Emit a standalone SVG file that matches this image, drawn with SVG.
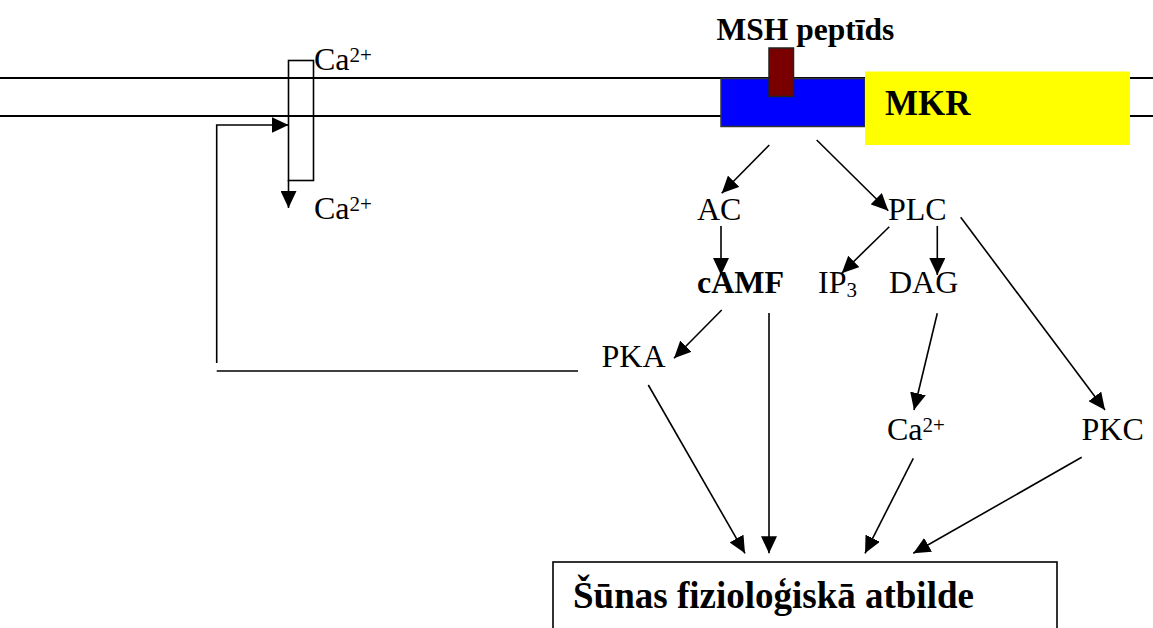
<svg xmlns="http://www.w3.org/2000/svg" width="1153" height="628" viewBox="0 0 1153 628">
<style>
.t{font-family:"Liberation Serif","Times New Roman",serif;font-size:32px;fill:#000}
.b{font-weight:bold}
.sup{font-size:21px}
.c{stroke:#000;stroke-width:1.6;fill:none}
.cm{stroke:#000;stroke-width:1.6;fill:none;marker-end:url(#ah)}
</style>
<defs>
<marker id="ah" markerUnits="userSpaceOnUse" markerWidth="17" markerHeight="16" refX="17" refY="8" orient="auto">
<path d="M0,0 L17,8 L0,16 Z" fill="#000"/>
</marker>
</defs>
<rect width="1153" height="628" fill="#fff"/>
<g id="membrane">
<line x1="0" y1="78" x2="1153" y2="78" stroke="#000" stroke-width="2"/>
<line x1="0" y1="116" x2="1153" y2="116" stroke="#000" stroke-width="2"/>
</g>
<g id="channel">
<rect x="288.5" y="60.5" width="25" height="120" fill="none" stroke="#000" stroke-width="1.6"/>
</g>
<g id="receptor">
<rect x="721" y="78.5" width="144" height="48" fill="#0000ff" stroke="#333" stroke-width="1.5"/>
<rect x="769" y="48" width="24.5" height="48.5" fill="#7a0000" stroke="#222" stroke-width="1.5"/>
</g>
<g id="mkr">
<rect x="865" y="71.5" width="265" height="73.5" fill="#ffff00"/>
<text class="t b" x="885" y="115" style="font-size:35px">MKR</text>
</g>
<g id="msh"><text class="t b" x="716.5" y="40" style="font-size:31.5px">MSH peptīds</text></g>
<g id="ca-out"><text class="t" x="314" y="70">Ca<tspan class="sup" dy="-8.5">2+</tspan></text></g>
<g id="ca-in"><text class="t" x="314" y="219">Ca<tspan class="sup" dy="-8.5">2+</tspan></text></g>
<g id="ac"><text class="t" x="697" y="220">AC</text></g>
<g id="plc"><text class="t" x="888" y="220">PLC</text></g>
<g id="camf"><text class="t b" x="697" y="293">cAMF</text></g>
<g id="ip3"><text class="t" x="818" y="293">IP<tspan class="sup" dy="4">3</tspan></text></g>
<g id="dag"><text class="t" x="889" y="293">DAG</text></g>
<g id="pka"><text class="t" x="601.5" y="367">PKA</text></g>
<g id="ca-cyt"><text class="t" x="887" y="440">Ca<tspan class="sup" dy="-8.5">2+</tspan></text></g>
<g id="pkc"><text class="t" x="1081.5" y="440">PKC</text></g>
<g id="response">
<rect x="553" y="562" width="504" height="80" fill="none" stroke="#000" stroke-width="1.6"/>
<text class="t b" x="573" y="608" style="font-size:37px">Šūnas fizioloģiskā atbilde</text>
</g>
<g id="connectors">
<line class="cm" x1="288.5" y1="180" x2="288.5" y2="208"/>
<polyline class="cm" points="216.7,363 216.7,125 288.5,125"/>
<line class="c" x1="216.7" y1="371" x2="578" y2="371"/>
<line class="cm" x1="769.3" y1="145" x2="721.7" y2="193.3"/>
<line class="cm" x1="816.7" y1="140" x2="888.3" y2="210.7"/>
<line class="cm" x1="721" y1="226" x2="721" y2="275"/>
<line class="cm" x1="889.3" y1="226.7" x2="841.7" y2="273.3"/>
<line class="cm" x1="937.3" y1="226" x2="937.3" y2="275"/>
<line class="cm" x1="960.7" y1="217.3" x2="1105" y2="410"/>
<line class="cm" x1="721.7" y1="310" x2="674" y2="358.3"/>
<line class="cm" x1="937.3" y1="313.3" x2="914" y2="410"/>
<line class="cm" x1="648.3" y1="385" x2="745" y2="553.3"/>
<line class="cm" x1="769" y1="313" x2="769" y2="553.3"/>
<line class="cm" x1="913.3" y1="458.3" x2="865" y2="553.3"/>
<line class="cm" x1="1081.7" y1="457.3" x2="913.3" y2="553.3"/>
</g>
</svg>
